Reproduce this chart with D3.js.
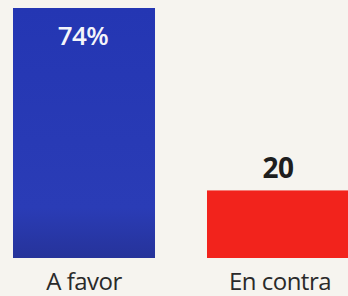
<!DOCTYPE html>
<html>
<head>
<meta charset="utf-8">
<script src="https://cdn.jsdelivr.net/npm/d3@7"></script>
<style>
  html, body { margin: 0; padding: 0; background: #f6f4ef; }
  svg { display: block; }
</style>
</head>
<body>
<svg width="348" height="296"></svg>
<script>
var categories = ["A favor", "En contra"];
var values = [74, 20];
var valueLabels = ["74%", "20"];
var colors = ["#2638b4", "#f2231c"];

var svg = d3.select("svg"),
  width = +svg.attr("width"),
  height = +svg.attr("height");

var baseY = 258;

var x = d3.scaleBand()
  .domain(categories)
  .range([13, 349])
  .paddingInner(0.268)
  .paddingOuter(0);

var y = d3.scaleLinear()
  .domain([0, 74])
  .range([baseY, 8]);

var defs = svg.append("defs");
var grad = defs.append("linearGradient")
  .attr("id", "blueGrad")
  .attr("x1", 0).attr("y1", 0).attr("x2", 0).attr("y2", 1);
grad.append("stop").attr("offset", "0%").attr("stop-color", "#2436b3");
grad.append("stop").attr("offset", "80%").attr("stop-color", "#2a3cb6");
grad.append("stop").attr("offset", "100%").attr("stop-color", "#26339a");

var bars = svg.append("g")
  .selectAll("rect")
  .data(values)
  .enter().append("rect")
  .attr("x", function(d, i) { return x(categories[i]); })
  .attr("y", function(d) { return y(d); })
  .attr("width", x.bandwidth())
  .attr("height", function(d) { return baseY - y(d); })
  .attr("fill", function(d, i) { return i == 0 ? "url(#blueGrad)" : colors[i]; });

// value labels: first inside the bar, second above it
svg.append("g")
  .selectAll("text")
  .data(values)
  .enter().append("text")
  .attr("x", function(d, i) { return x(categories[i]) + x.bandwidth() / 2 + (i == 0 ? -1 : 0); })
  .attr("y", function(d, i) { return i == 0 ? y(d) + 37 : y(d) - 12; })
  .attr("text-anchor", "middle")
  .attr("font-family", "'Open Sans', sans-serif")
  .attr("font-weight", function(d, i) { return i == 0 ? 600 : 700; })
  .attr("font-size", function(d, i) { return i == 0 ? 26 : 28; })
  .attr("letter-spacing", -0.5)
  .attr("fill", function(d, i) { return i == 0 ? "#f4f4fa" : "#1e1e1e"; })
  .text(function(d, i) { return valueLabels[i]; });

// category labels
svg.append("g")
  .selectAll("text")
  .data(categories)
  .enter().append("text")
  .attr("x", function(d) { return x(d) + x.bandwidth() / 2 + (d == "A favor" ? 0 : 2); })
  .attr("y", 290)
  .attr("text-anchor", "middle")
  .attr("font-family", "'Open Sans', sans-serif")
  .attr("font-size", 24)
  .attr("letter-spacing", -0.5)
  .attr("fill", "#2a2a2a")
  .text(function(d) { return d; });
</script>
</body>
</html>
